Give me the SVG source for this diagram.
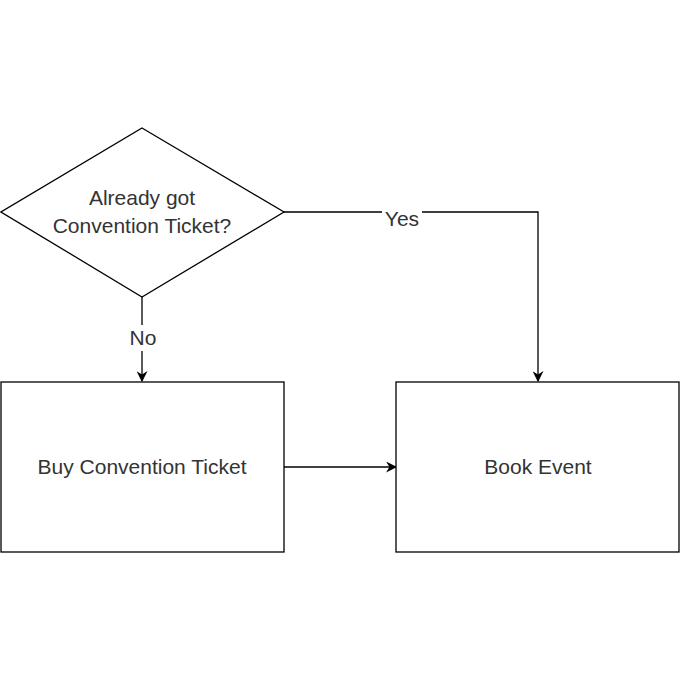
<svg xmlns="http://www.w3.org/2000/svg" width="680" height="680" viewBox="0 0 680 680">
<style>
.s{fill:#fff;stroke:#000;stroke-width:1.3}
.t{font-family:"Liberation Sans",Arial,sans-serif;font-size:21px;fill:#333;text-anchor:middle}
.c{fill:none;stroke:#000;stroke-width:1.3}
</style>
<defs><marker id="a" viewBox="0 0 10 10" refX="9" refY="5" markerWidth="11" markerHeight="11" orient="auto" markerUnits="userSpaceOnUse"><path d="M0,0L10,5L0,10L3,5z" fill="#000"/></marker></defs>
<rect width="680" height="680" fill="#fff"/>
<g id="connectors">
<path class="c" d="M142,297V381" marker-end="url(#a)"/>
<path class="c" d="M284,212H538V381" marker-end="url(#a)"/>
<path class="c" d="M284,467H396" marker-end="url(#a)"/>
<rect x="127" y="325" width="32" height="26" fill="#fff"/>
<text class="t" x="143" y="345">No</text>
<rect x="382" y="206" width="40" height="24" fill="#fff"/>
<text class="t" x="402" y="226">Yes</text>
</g>
<g id="decision"><path class="s" d="M142,128L284,212L142,297L1,212z"/>
<text class="t" x="142" y="205">Already got</text><text class="t" x="142" y="233">Convention Ticket?</text></g>
<g id="buy"><rect class="s" x="1" y="382" width="283" height="170"/><text class="t" x="142" y="474">Buy Convention Ticket</text></g>
<g id="book"><rect class="s" x="396" y="382" width="283" height="170"/><text class="t" x="538" y="474">Book Event</text></g>
</svg>
